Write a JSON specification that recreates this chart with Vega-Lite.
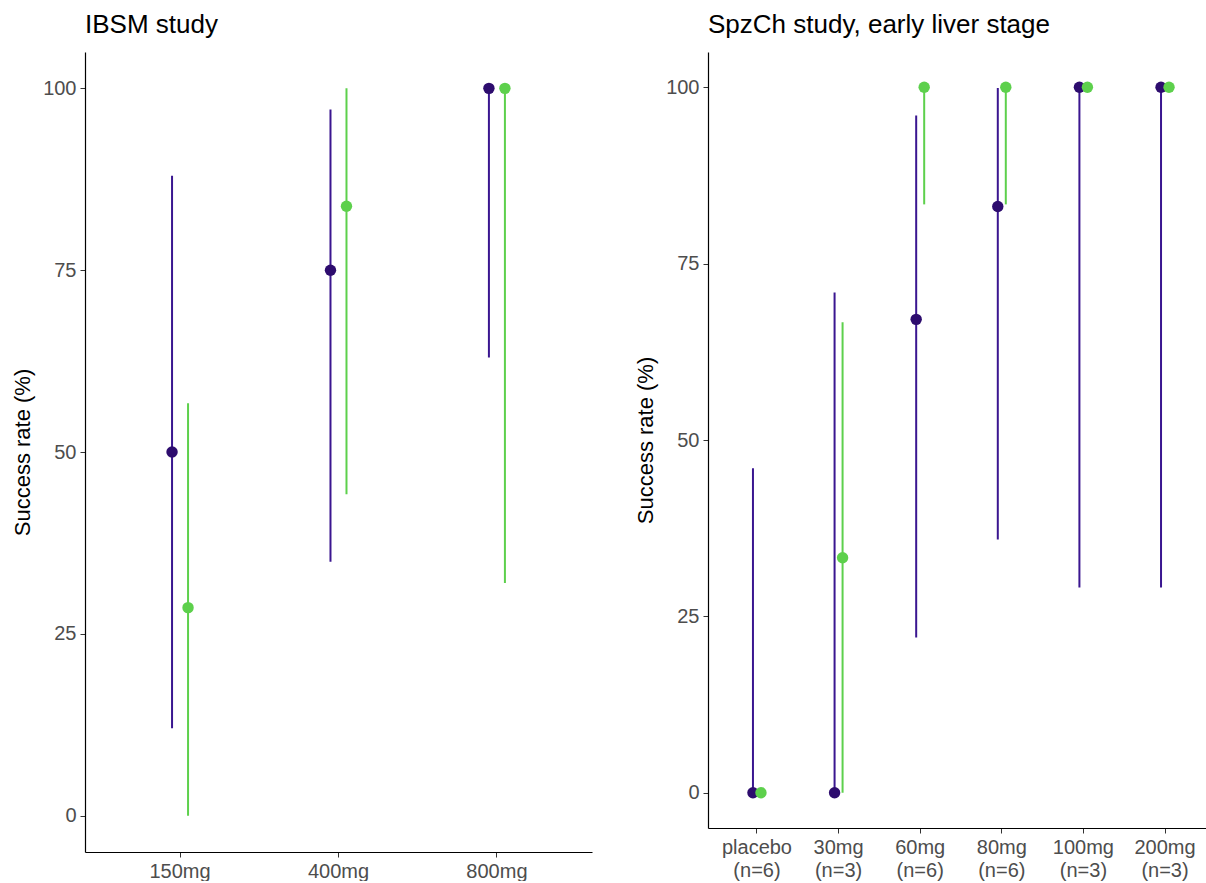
{
  "$schema": "https://vega.github.io/schema/vega-lite/v6.json",
  "padding": {"left": 11, "top": 12, "right": 0, "bottom": 0},
  "background": "white",
  "spacing": 42,
  "config": {
    "font": "Liberation Sans",
    "view": {"stroke": null},
    "axis": {
      "grid": false,
      "domainColor": "black",
      "domainWidth": 1.2,
      "tickColor": "#333333",
      "tickSize": 5,
      "labelColor": "#4d4d4d",
      "labelFontSize": 20,
      "labelFont": "Liberation Sans",
      "labelPadding": 4,
      "titleFont": "Liberation Sans",
      "titleFontSize": 22,
      "titleFontWeight": "normal",
      "titleColor": "black"
    },
    "title": {"anchor": "start", "frame": "group", "fontSize": 26, "fontWeight": "normal", "font": "Liberation Sans", "color": "black", "offset": 14}
  },
  "datasets": {
    "ibsm": [
      {"dose": "150mg", "group": "A", "rate": 50, "lo": 12, "hi": 88},
      {"dose": "150mg", "group": "B", "rate": 28.6, "lo": 0, "hi": 56.7},
      {"dose": "400mg", "group": "A", "rate": 75, "lo": 34.9, "hi": 97.1},
      {"dose": "400mg", "group": "B", "rate": 83.8, "lo": 44.2, "hi": 100},
      {"dose": "800mg", "group": "A", "rate": 100, "lo": 63, "hi": 100},
      {"dose": "800mg", "group": "B", "rate": 100, "lo": 32, "hi": 100}
    ],
    "spzch": [
      {"dose": "placebo (n=6)", "group": "A", "rate": 0, "lo": 0, "hi": 46},
      {"dose": "placebo (n=6)", "group": "B", "rate": 0, "lo": 0, "hi": 0},
      {"dose": "30mg (n=3)", "group": "A", "rate": 0, "lo": 0, "hi": 70.9},
      {"dose": "30mg (n=3)", "group": "B", "rate": 33.3, "lo": 0, "hi": 66.7},
      {"dose": "60mg (n=6)", "group": "A", "rate": 67.1, "lo": 22, "hi": 96},
      {"dose": "60mg (n=6)", "group": "B", "rate": 100, "lo": 83.4, "hi": 100},
      {"dose": "80mg (n=6)", "group": "A", "rate": 83.1, "lo": 35.9, "hi": 99.9},
      {"dose": "80mg (n=6)", "group": "B", "rate": 100, "lo": 83.4, "hi": 100},
      {"dose": "100mg (n=3)", "group": "A", "rate": 100, "lo": 29.1, "hi": 100},
      {"dose": "100mg (n=3)", "group": "B", "rate": 100, "lo": 100, "hi": 100},
      {"dose": "200mg (n=3)", "group": "A", "rate": 100, "lo": 29.1, "hi": 100},
      {"dose": "200mg (n=3)", "group": "B", "rate": 100, "lo": 100, "hi": 100}
    ]
  },
  "hconcat": [
    {
      "title": "IBSM study",
      "width": 507,
      "height": 800,
      "data": {"name": "ibsm"},
      "encoding": {
        "x": {"field": "dose", "type": "nominal", "sort": ["150mg", "400mg", "800mg"],
              "scale": {"paddingInner": 0, "paddingOuter": 0.1},
              "axis": {"title": null, "labelAngle": 0}},
        "xOffset": {"field": "group", "type": "nominal", "sort": ["A", "B"],
                    "scale": {"paddingInner": 0, "paddingOuter": 0, "range": [63.2, 95.2]}}
      },
      "layer": [
        {
          "mark": {"type": "rule", "strokeWidth": 2},
          "encoding": {
            "y": {"field": "lo", "type": "quantitative",
                  "scale": {"domain": [-5, 105], "nice": false, "zero": false},
                  "axis": {"title": "Success rate (%)", "values": [0, 25, 50, 75, 100], "titlePadding": 8}},
            "y2": {"field": "hi"},
            "color": {"field": "group", "type": "nominal", "legend": null,
                      "scale": {"domain": ["A", "B"], "range": ["#3a1690", "#5dd04c"]}}
          }
        },
        {
          "mark": {"type": "point", "filled": true, "opacity": 1, "size": 130},
          "encoding": {
            "y": {"field": "rate", "type": "quantitative"},
            "fill": {"field": "group", "type": "nominal", "legend": null,
                     "scale": {"domain": ["A", "B"], "range": ["#2d0c6e", "#5dd04c"]}}
          }
        }
      ]
    },
    {
      "title": "SpzCh study, early liver stage",
      "width": 506,
      "height": 776,
      "data": {"name": "spzch"},
      "encoding": {
        "x": {"field": "dose", "type": "nominal",
              "sort": ["placebo (n=6)", "30mg (n=3)", "60mg (n=6)", "80mg (n=6)", "100mg (n=3)", "200mg (n=3)"],
              "scale": {"paddingInner": 0, "paddingOuter": 0.1},
              "axis": {"title": null, "labelAngle": 0, "labelExpr": "split(datum.label, ' ')", "labelLineHeight": 23}},
        "xOffset": {"field": "group", "type": "nominal", "sort": ["A", "B"],
                    "scale": {"paddingInner": 0, "paddingOuter": 0, "range": [32.8, 48.8]}}
      },
      "layer": [
        {
          "mark": {"type": "rule", "strokeWidth": 2},
          "encoding": {
            "y": {"field": "lo", "type": "quantitative",
                  "scale": {"domain": [-5, 105], "nice": false, "zero": false},
                  "axis": {"title": "Success rate (%)", "values": [0, 25, 50, 75, 100], "titlePadding": 8}},
            "y2": {"field": "hi"},
            "color": {"field": "group", "type": "nominal", "legend": null,
                      "scale": {"domain": ["A", "B"], "range": ["#3a1690", "#5dd04c"]}}
          }
        },
        {
          "mark": {"type": "point", "filled": true, "opacity": 1, "size": 130},
          "encoding": {
            "y": {"field": "rate", "type": "quantitative"},
            "fill": {"field": "group", "type": "nominal", "legend": null,
                     "scale": {"domain": ["A", "B"], "range": ["#2d0c6e", "#5dd04c"]}}
          }
        }
      ]
    }
  ],
  "resolve": {"scale": {"color": "independent", "fill": "independent", "xOffset": "independent"}}
}
